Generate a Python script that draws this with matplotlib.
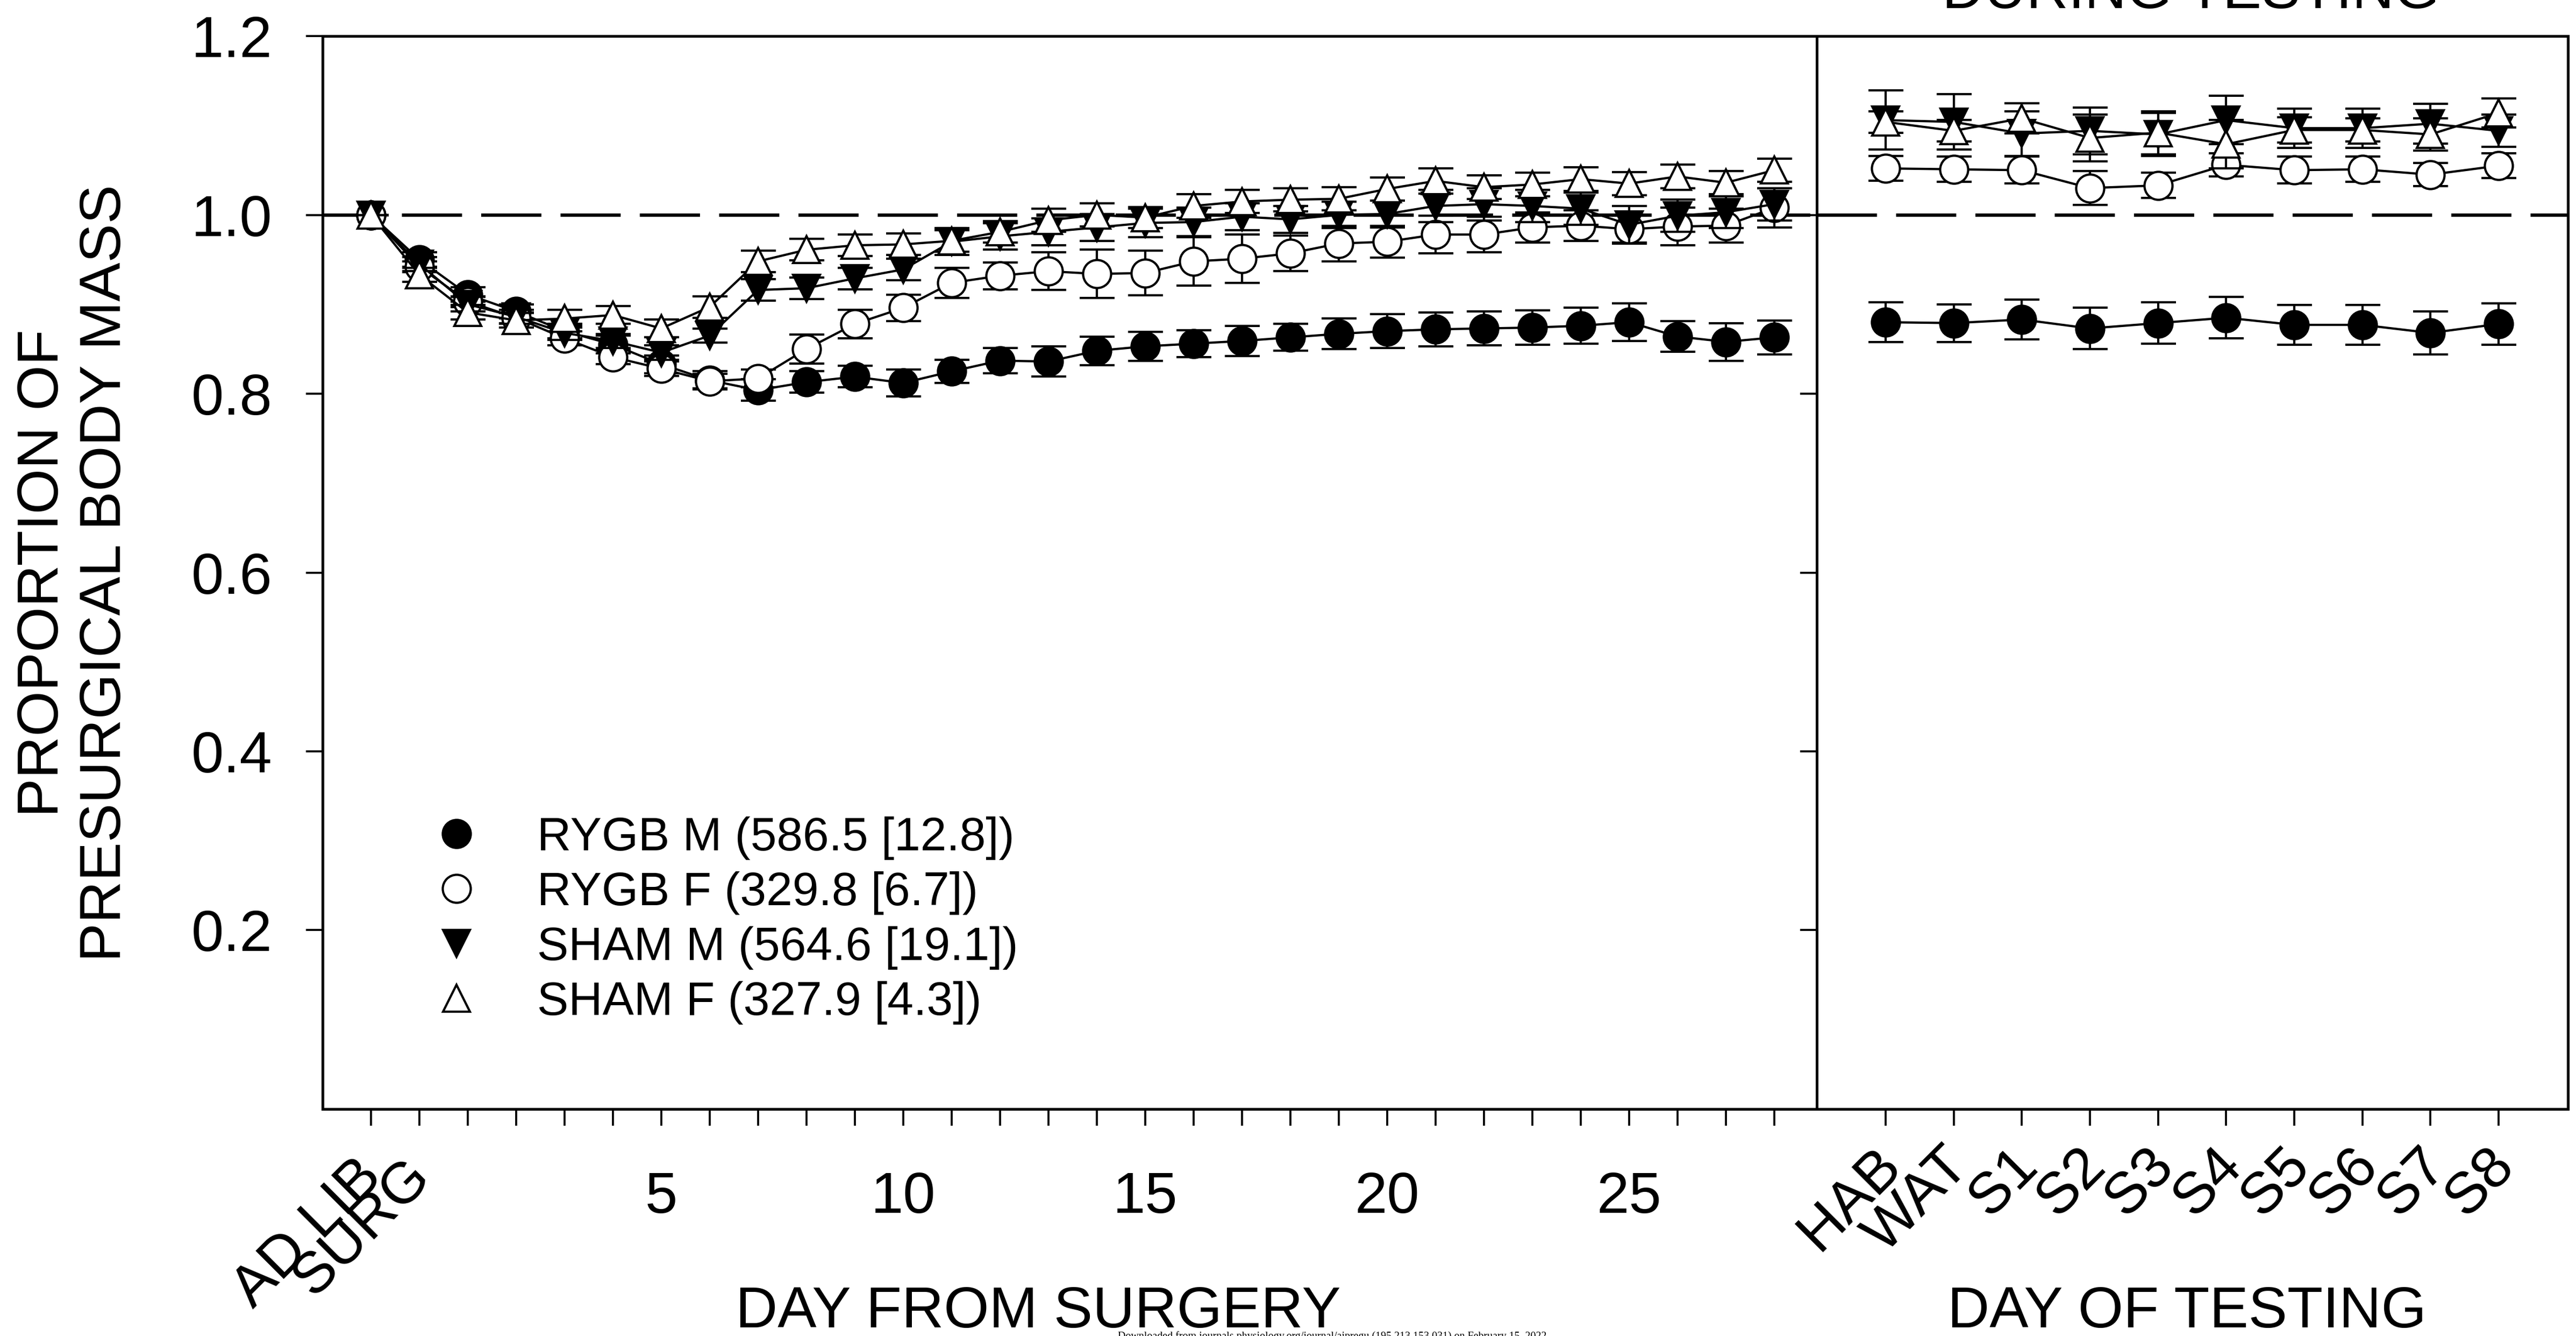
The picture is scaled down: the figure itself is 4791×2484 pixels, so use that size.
import numpy as np
import matplotlib.pyplot as plt
import matplotlib.transforms as mtransforms
from matplotlib.lines import Line2D

plt.rcParams['font.family'] = ['Liberation Sans', 'DejaVu Sans']

# ---- data: days after surgery (AD LIB = -1, SURG = 0) ----
days = [-1, 0, 1, 2, 3, 4, 5, 6, 7, 8, 9, 10, 11, 12, 13, 14,
        15, 16, 17, 18, 19, 20, 21, 22, 23, 24, 25, 26, 27, 28]
day_labels = ['AD LIB', 'SURG', '', '', '', '', '5', '', '', '', '', '10', '', '', '', '',
              '15', '', '', '', '', '20', '', '', '', '', '25', '', '', '']

rygb_m = [1.000, 0.950, 0.911, 0.892, 0.870, 0.855, 0.833, 0.815, 0.804, 0.813,
          0.819, 0.812, 0.825, 0.837, 0.836, 0.848, 0.853, 0.856, 0.859, 0.863,
          0.867, 0.870, 0.872, 0.873, 0.874, 0.876, 0.880, 0.864, 0.858, 0.863]
rygb_m_err = [0.0, 0.008, 0.008, 0.008, 0.008, 0.010, 0.010, 0.010, 0.012, 0.012,
              0.012, 0.015, 0.013, 0.014, 0.017, 0.016, 0.016, 0.015, 0.017, 0.015,
              0.017, 0.019, 0.019, 0.019, 0.019, 0.020, 0.021, 0.017, 0.021, 0.019]

rygb_f = [1.000, 0.942, 0.903, 0.885, 0.862, 0.841, 0.828, 0.814, 0.817, 0.850,
          0.878, 0.896, 0.924, 0.932, 0.937, 0.934, 0.935, 0.948, 0.951, 0.957,
          0.968, 0.970, 0.978, 0.978, 0.986, 0.988, 0.984, 0.987, 0.988, 1.008]
rygb_f_err = [0.0, 0.006, 0.006, 0.006, 0.008, 0.008, 0.008, 0.008, 0.010, 0.016,
              0.016, 0.015, 0.017, 0.015, 0.021, 0.027, 0.025, 0.027, 0.027, 0.020,
              0.020, 0.018, 0.021, 0.020, 0.017, 0.017, 0.015, 0.021, 0.019, 0.022]

sham_m = [1.000, 0.945, 0.900, 0.886, 0.868, 0.859, 0.846, 0.865, 0.916, 0.918,
          0.929, 0.939, 0.970, 0.976, 0.981, 0.986, 0.991, 0.992, 0.998, 0.995,
          1.000, 1.001, 1.010, 1.012, 1.010, 1.007, 0.989, 0.999, 1.003, 1.012]
sham_m_err = [0.0, 0.008, 0.008, 0.008, 0.008, 0.008, 0.008, 0.008, 0.012, 0.012,
              0.012, 0.012, 0.015, 0.015, 0.015, 0.015, 0.016, 0.016, 0.015, 0.015,
              0.015, 0.015, 0.018, 0.018, 0.018, 0.018, 0.021, 0.018, 0.018, 0.018]

sham_f = [1.000, 0.933, 0.891, 0.882, 0.884, 0.888, 0.873, 0.897, 0.948, 0.961,
          0.966, 0.967, 0.971, 0.981, 0.994, 1.000, 0.997, 1.010, 1.015, 1.017,
          1.018, 1.029, 1.038, 1.031, 1.034, 1.040, 1.035, 1.043, 1.036, 1.050]
sham_f_err = [0.0, 0.008, 0.008, 0.008, 0.010, 0.010, 0.010, 0.012, 0.012, 0.012,
              0.012, 0.012, 0.012, 0.012, 0.013, 0.013, 0.012, 0.013, 0.013, 0.013,
              0.013, 0.013, 0.014, 0.013, 0.013, 0.013, 0.013, 0.013, 0.013, 0.013]

# ---- data: testing days ----
test_labels = ['HAB', 'WAT', 'S1', 'S2', 'S3', 'S4', 'S5', 'S6', 'S7', 'S8']

t_rygb_m = [0.880, 0.879, 0.883, 0.873, 0.879, 0.885, 0.877, 0.877, 0.868, 0.878]
t_rygb_m_err = [0.022, 0.021, 0.022, 0.023, 0.023, 0.023, 0.022, 0.022, 0.024, 0.023]
t_rygb_f = [1.052, 1.051, 1.050, 1.030, 1.033, 1.056, 1.050, 1.051, 1.045, 1.055]
t_rygb_f_err = [0.014, 0.014, 0.015, 0.019, 0.014, 0.013, 0.015, 0.014, 0.013, 0.014]
t_sham_m = [1.106, 1.104, 1.091, 1.094, 1.090, 1.106, 1.097, 1.097, 1.102, 1.094]
t_sham_m_err = [0.033, 0.031, 0.025, 0.026, 0.024, 0.027, 0.022, 0.022, 0.022, 0.018]
t_sham_f = [1.104, 1.094, 1.108, 1.086, 1.092, 1.079, 1.095, 1.095, 1.090, 1.114]
t_sham_f_err = [0.012, 0.012, 0.017, 0.026, 0.024, 0.027, 0.014, 0.013, 0.018, 0.016]

group_names = ['RYGB M (586.5 [12.8])', 'RYGB F (329.8 [6.7])',
               'SHAM M (564.6 [19.1])', 'SHAM F (327.9 [4.3])']

styles = [('o', 'black', 12.5), ('o', 'white', 12.5), ('v', 'black', 12.0), ('^', 'white', 12.0)]

left_series = [(rygb_m, rygb_m_err), (rygb_f, rygb_f_err), (sham_m, sham_m_err), (sham_f, sham_f_err)]
right_series = [(t_rygb_m, t_rygb_m_err), (t_rygb_f, t_rygb_f_err),
                (t_sham_m, t_sham_m_err), (t_sham_f, t_sham_f_err)]

fig = plt.figure(figsize=(4791 / 300, 2484 / 300), dpi=300)
ax1 = fig.add_axes([0.1252, 0.1699, 0.7053 - 0.1252, 0.9730 - 0.1699])
ax2 = fig.add_axes([0.7053, 0.1699, 0.9969 - 0.7053, 0.9730 - 0.1699])

for ax in (ax1, ax2):
    ax.axhline(1.0, color='black', lw=1.5, dashes=(17.9, 5.7), zorder=1)

for i, ((m, fc, ms), (vals, err)) in enumerate(zip(styles, left_series)):
    ax1.errorbar(days, vals, yerr=err, marker=m, ms=ms, mfc=fc, mec='black', mew=1.0,
                 color='black', lw=1.0, elinewidth=1.0, capsize=7.8, capthick=1.3, zorder=3 + i)

x_test = np.arange(len(test_labels))
for i, ((m, fc, ms), (vals, err)) in enumerate(zip(styles, right_series)):
    ax2.errorbar(x_test, vals, yerr=err, marker=m, ms=ms, mfc=fc, mec='black', mew=1.0,
                 color='black', lw=1.0, elinewidth=1.0, capsize=7.8, capthick=1.3, zorder=3 + i)

ax1.set_xlim(-2, 28.88)
ax2.set_xlim(-1.01, 10.02)
for ax in (ax1, ax2):
    ax.set_ylim(0, 1.2)
    ax.set_yticks([0.2, 0.4, 0.6, 0.8, 1.0, 1.2])
    for s in ax.spines.values():
        s.set_linewidth(1.2)
    ax.tick_params(axis='both', direction='out', length=7.5, width=0.9, labelsize=26)
    ax.tick_params(axis='x', pad=20)
    ax.tick_params(axis='y', pad=15)

ax1.set_yticklabels(['0.2', '0.4', '0.6', '0.8', '1.0', '1.2'])
ax2.tick_params(axis='y', labelleft=False)

ax1.set_xticks(days)
ax1.set_xticklabels(day_labels)
ax2.set_xticks(x_test)
ax2.set_xticklabels(test_labels)

# slanted labels, nudged a little
shift_left = mtransforms.ScaledTranslation(1 / 72, 1 / 72, fig.dpi_scale_trans)
shift_right = mtransforms.ScaledTranslation(3 / 72, 6 / 72, fig.dpi_scale_trans)
for lbls, shift in ((ax1.get_xticklabels()[:2], shift_left), (ax2.get_xticklabels(), shift_right)):
    for lbl in lbls:
        lbl.set_rotation(45)
        lbl.set_ha('right')
        lbl.set_va('center')
        lbl.set_rotation_mode('anchor')
        lbl.set_transform(lbl.get_transform() + shift)

handles = [Line2D([], [], ls='none', marker=m, ms=ms, mfc=fc, mec='black', mew=1.0)
           for m, fc, ms in styles]
ax1.legend(handles, group_names, loc='upper left', bbox_to_anchor=(0.168, 0.389),
           bbox_transform=fig.transFigure, frameon=False, fontsize=21,
           handlelength=1.0, handletextpad=1.22, labelspacing=0.24,
           borderpad=0, borderaxespad=0)

fig.text(0.0288, 0.571, 'PROPORTION OF\nPRESURGICAL BODY MASS', rotation=90,
         ha='center', va='center', multialignment='center', fontsize=26)
fig.text(0.403, 0.0064, 'DAY FROM SURGERY', ha='center', va='baseline', fontsize=26)
fig.text(0.849, 0.0064, 'DAY OF TESTING', ha='center', va='baseline', fontsize=26)
fig.text(0.8505, 0.994, 'DURING TESTING', ha='center', va='baseline', fontsize=26)
fig.text(0.5176, 0.0036,
         'Downloaded from journals.physiology.org/journal/ajpregu (195.213.153.031) on February 15, 2022.',
         ha='center', va='top', fontsize=4.8, family='Liberation Serif')

fig.savefig('out.png', dpi=300)
